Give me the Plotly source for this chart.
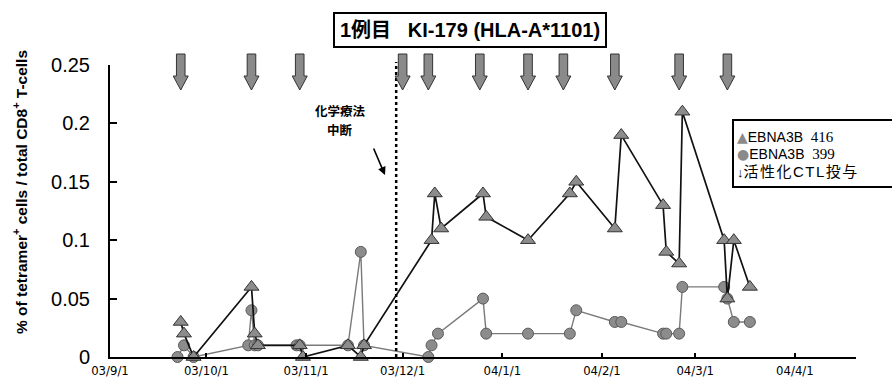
import plotly.graph_objects as go

# ---- data -------------------------------------------------------------
# EBNA3B 416 tetramer+ fraction (triangles)
tri_dates = ["2003-09-23", "2003-09-24", "2003-09-27", "2003-10-15", "2003-10-16", "2003-10-17",
             "2003-10-30", "2003-10-31", "2003-11-14", "2003-11-18", "2003-11-19",
             "2003-12-10", "2003-12-11", "2003-12-13", "2003-12-26", "2003-12-27",
             "2004-01-09", "2004-01-22", "2004-01-24", "2004-02-05", "2004-02-07",
             "2004-02-20", "2004-02-21", "2004-02-25", "2004-02-26",
             "2004-03-10", "2004-03-11", "2004-03-13", "2004-03-18"]
tri_vals = [0.03, 0.02, 0, 0.06, 0.02, 0.01,
            0.01, 0, 0.01, 0, 0.01,
            0.10, 0.14, 0.11, 0.14, 0.12,
            0.10, 0.14, 0.15, 0.11, 0.19,
            0.13, 0.09, 0.08, 0.21,
            0.10, 0.05, 0.10, 0.06]

# EBNA3B 399 tetramer+ fraction (circles)
cir_dates = ["2003-09-22", "2003-09-24", "2003-09-27", "2003-10-14", "2003-10-15", "2003-10-16", "2003-10-17",
             "2003-10-29", "2003-10-30", "2003-11-14", "2003-11-18", "2003-11-19",
             "2003-12-09", "2003-12-10", "2003-12-12", "2003-12-26", "2003-12-27",
             "2004-01-09", "2004-01-22", "2004-01-24", "2004-02-05", "2004-02-07",
             "2004-02-20", "2004-02-21", "2004-02-25", "2004-02-26",
             "2004-03-10", "2004-03-11", "2004-03-13", "2004-03-18"]
cir_vals = [0, 0.01, 0, 0.01, 0.04, 0.01, 0.01,
            0.01, 0.01, 0.01, 0.09, 0.01,
            0, 0.01, 0.02, 0.05, 0.02,
            0.02, 0.02, 0.04, 0.03, 0.03,
            0.02, 0.02, 0.02, 0.06,
            0.06, 0.05, 0.03, 0.03]

# activated CTL infusion dates (block arrows)
ctl_dates = ["2003-09-23", "2003-10-15", "2003-10-30", "2003-12-01", "2003-12-09", "2003-12-25",
             "2004-01-09", "2004-01-20", "2004-02-05", "2004-02-25", "2004-03-11"]

# chemotherapy discontinued
chemo_stop = "2003-11-29"
chemo_lines = ["化学療法", "中断"]

x_range = ["2003-09-01", "2004-04-20"]
y_range = [0, 0.25]
y_ticks = [0, 0.05, 0.1, 0.15, 0.2, 0.25]
y_ticktext = ["0", "0.05", "0.1", "0.15", "0.2", "0.25"]

legend_rows = ["EBNA3B", "EBNA3B", "活性化CTL投与"]
legend_ids = ["416", "399"]

# ---- layout geometry (pixels) ----------------------------------------
W, H = 892, 383
PL, PR, PT, PB = 110, 856, 65, 357


def px_x(px):
    return (px - PL) / (PR - PL)


def px_y(py):
    return (PB - py) / (PB - PT)


fig = go.Figure()

fig.add_trace(go.Scatter(
    x=cir_dates, y=cir_vals, mode="lines+markers", name="EBNA3B 399",
    line=dict(color="#7a7a7a", width=1.4),
    marker=dict(symbol="circle", size=11, color="#8c8c8c",
                line=dict(color="#5a5a5a", width=1)),
    cliponaxis=False, showlegend=False,
))
fig.add_trace(go.Scatter(
    x=tri_dates, y=tri_vals, mode="lines+markers", name="EBNA3B 416",
    line=dict(color="#111111", width=1.7),
    marker=dict(symbol="triangle-up", size=13, color="#8c8c8c",
                line=dict(color="#333333", width=1)),
    cliponaxis=False, showlegend=False,
))

shapes = []
# dotted line: chemotherapy stopped
shapes.append(dict(type="line", xref="x", yref="paper",
                   x0=chemo_stop, x1=chemo_stop, y0=0, y1=px_y(62),
                   line=dict(color="black", width=2.5, dash="dot")))

# block arrows for CTL infusions (pixel-sized, tip anchored)
arrow_path = "M 0 0 L -7.5 14 L -4.3 14 L -4.3 36 L 4.3 36 L 4.3 14 L 7.5 14 Z"
for d in ctl_dates:
    shapes.append(dict(type="path", xref="x", yref="paper",
                       xsizemode="pixel", ysizemode="pixel",
                       xanchor=d, yanchor=px_y(90),
                       path=arrow_path,
                       fillcolor="#8a8a8a",
                       line=dict(color="#333333", width=1)))

# legend frame (runs off the right edge)
shapes.append(dict(type="rect", xref="paper", yref="paper",
                   x0=px_x(733), x1=px_x(900), y0=px_y(187), y1=px_y(120),
                   fillcolor="white", line=dict(color="black", width=2),
                   layer="above"))

annotations = []
# title box
annotations.append(dict(
    xref="paper", yref="paper", x=px_x(470), y=px_y(30),
    xanchor="center", yanchor="middle", showarrow=False,
    text="<b>1例目\u00a0\u00a0\u00a0KI-179 (HLA-A*1101)</b>",
    font=dict(family="Liberation Sans, Noto Sans CJK JP, Arial, sans-serif", size=20, color="black"),
    bordercolor="black", borderwidth=2, borderpad=5, bgcolor="white",
))
# y-axis title
annotations.append(dict(
    xref="paper", yref="paper", x=px_x(20), y=px_y(192),
    xanchor="center", yanchor="middle", showarrow=False, textangle=-90,
    text="<b>% of tetramer<sup>+</sup> cells / total CD8<sup>+</sup> T-cells</b>",
    font=dict(family="Liberation Sans, Arial, sans-serif", size=15.5, color="black"),
))
# chemotherapy note (two lines) and its pointer
for line_txt, ly in zip(chemo_lines, [111, 129]):
    annotations.append(dict(
        xref="paper", yref="paper", x=px_x(340), y=px_y(ly),
        xanchor="center", yanchor="middle", showarrow=False,
        text="<b>" + line_txt + "</b>",
        font=dict(family="Noto Sans CJK JP, sans-serif", size=12.5, color="black"),
    ))
annotations.append(dict(
    xref="paper", yref="paper", x=px_x(385), y=px_y(175),
    text="", showarrow=True, axref="pixel", ayref="pixel", ax=-12, ay=-28,
    arrowhead=2, arrowsize=1, arrowwidth=1.6, arrowcolor="black",
))

# legend rows
serif = "font-family:'Liberation Serif', 'Times New Roman', serif"
sym_style = "color:#8a8a8a;font-family:'DejaVu Sans';font-size:14px"
row_texts = [
    "<span style=\"" + sym_style + "\">▲</span>" + legend_rows[0]
    + "\u00a0\u00a0<span style=\"" + serif + ";font-size:15px\">" + legend_ids[0] + "</span>",
    "<span style=\"" + sym_style + "\">●</span>" + legend_rows[1]
    + "\u00a0\u00a0<span style=\"" + serif + ";font-size:15px\">" + legend_ids[1] + "</span>",
    "<span style='font-size:13px'>↓</span><span style='letter-spacing:1.5px;font-size:15px'>"
    + legend_rows[2] + "</span>",
]
row_y = [137, 154, 171]
for txt, ry in zip(row_texts, row_y):
    annotations.append(dict(
        xref="paper", yref="paper", x=px_x(735), y=px_y(ry),
        xanchor="left", yanchor="middle", showarrow=False, align="left",
        text=txt,
        font=dict(family="Liberation Sans, Noto Sans CJK JP, Arial, sans-serif", size=14, color="black"),
    ))

fig.update_layout(
    width=W, height=H,
    margin=dict(l=PL, r=W - PR, t=PT, b=H - PB, autoexpand=False),
    paper_bgcolor="white", plot_bgcolor="white",
    shapes=shapes, annotations=annotations,
    showlegend=False,
    xaxis=dict(
        type="date", range=x_range, tick0="2003-09-01", dtick="M1",
        tickformat="%y/%-m/%-d", showgrid=False, zeroline=False,
        showline=True, linecolor="black", linewidth=2,
        ticks="inside", ticklen=4, tickwidth=1.5, tickcolor="black",
        tickfont=dict(family="Liberation Sans Narrow, DejaVu Sans Condensed, sans-serif", size=13, color="black"),
        automargin=False,
    ),
    yaxis=dict(
        range=y_range, tickvals=y_ticks, ticktext=y_ticktext,
        showgrid=False, zeroline=False,
        showline=True, linecolor="black", linewidth=2,
        ticks="inside", ticklen=7, tickwidth=1.5, tickcolor="black",
        ticklabelstandoff=14,
        tickfont=dict(family="Liberation Sans, Arial, sans-serif", size=20, color="black"),
        automargin=False,
    ),
)

fig.write_html("out.html")
